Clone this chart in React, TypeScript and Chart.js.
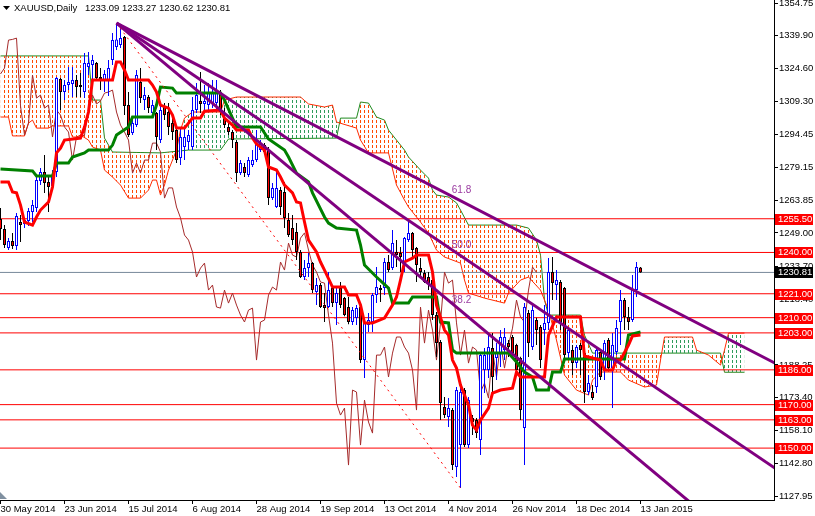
import React, { useEffect, useRef } from 'react';
import { Chart, registerables } from 'chart.js';

Chart.register(...registerables);

// ---------- data ----------
const opens = [
  1255.4, 1250.8, 1242.1, 1245.3, 1243.0, 1254.0, 1253.1, 1254.5, 1258.6, 1260.5,
  1272.9, 1277.0, 1272.4, 1270.6, 1277.0, 1319.8, 1313.8, 1317.0, 1317.5, 1319.3,
  1317.0, 1313.8, 1325.3, 1326.2, 1327.1, 1320.7, 1319.3, 1319.3, 1328.5, 1334.5,
  1335.4, 1339.1, 1307.8, 1294.9, 1298.6, 1318.4, 1310.1, 1311.5, 1304.1, 1304.1,
  1291.7, 1306.9, 1304.6, 1299.5, 1296.3, 1283.4, 1288.5, 1290.8, 1288.5, 1305.5,
  1309.7, 1308.3, 1307.8, 1308.7, 1308.7, 1313.3, 1301.8, 1297.7, 1295.4, 1290.8,
  1276.5, 1279.3, 1275.6, 1280.2, 1282.5, 1287.1, 1289.4, 1287.1, 1265.0, 1260.9,
  1268.7, 1267.8, 1254.9, 1251.3, 1249.4, 1240.2, 1228.7, 1232.8, 1235.1, 1221.8,
  1225.0, 1215.8, 1214.9, 1223.6, 1216.7, 1223.6, 1219.0, 1214.9, 1208.0, 1209.8,
  1214.9, 1190.5, 1206.6, 1208.0, 1220.4, 1223.6, 1223.6, 1235.6, 1232.8, 1240.2,
  1239.7, 1235.6, 1245.7, 1249.0, 1242.0, 1232.8, 1230.5, 1228.7, 1227.3, 1211.2,
  1198.8, 1168.9, 1164.3, 1167.5, 1141.3, 1151.4, 1176.7, 1151.4, 1163.8, 1162.9,
  1153.7, 1185.9, 1185.9, 1196.0, 1191.4, 1193.7, 1195.1, 1198.3, 1201.1, 1197.4,
  1191.4, 1159.2, 1212.1, 1196.5, 1208.9, 1205.7, 1204.3, 1207.6, 1231.0, 1225.0,
  1226.4, 1223.6, 1193.7, 1195.1, 1189.1, 1197.4, 1193.7, 1175.8, 1175.8, 1178.1,
  1194.2, 1185.9, 1199.7, 1186.8, 1194.2, 1208.0, 1218.1, 1210.3, 1208.9, 1222.7,
  1233.09,
];
const highs = [
  1260.5, 1252.6, 1246.7, 1249.0, 1258.2, 1257.2, 1255.9, 1260.5, 1264.1, 1274.7,
  1278.9, 1284.8, 1274.7, 1277.9, 1320.7, 1320.3, 1319.3, 1325.3, 1325.3, 1321.6,
  1322.5, 1331.7, 1332.2, 1330.8, 1327.6, 1324.8, 1323.9, 1328.5, 1340.9, 1345.5,
  1343.3, 1339.6, 1313.8, 1300.9, 1323.9, 1324.8, 1316.1, 1312.4, 1310.1, 1304.6,
  1308.7, 1308.7, 1308.7, 1303.2, 1297.2, 1297.2, 1297.7, 1296.3, 1311.5, 1317.9,
  1323.0, 1317.0, 1317.9, 1319.3, 1319.3, 1314.7, 1306.4, 1300.9, 1296.3, 1291.7,
  1282.5, 1281.1, 1283.9, 1287.1, 1296.3, 1291.7, 1290.3, 1288.5, 1272.0, 1277.0,
  1270.1, 1272.4, 1258.2, 1257.2, 1253.5, 1241.1, 1236.5, 1239.7, 1235.6, 1228.2,
  1225.9, 1221.3, 1231.0, 1225.0, 1223.6, 1226.4, 1219.5, 1219.5, 1214.9, 1215.8,
  1215.8, 1209.8, 1212.1, 1221.3, 1233.3, 1225.0, 1237.4, 1238.8, 1250.3, 1245.7,
  1242.5, 1247.1, 1254.9, 1249.4, 1242.5, 1237.4, 1231.9, 1231.0, 1228.2, 1212.6,
  1199.7, 1173.5, 1173.0, 1168.4, 1178.1, 1179.0, 1177.6, 1173.5, 1165.2, 1163.8,
  1193.7, 1196.0, 1202.9, 1202.9, 1198.3, 1204.3, 1205.2, 1199.7, 1202.0, 1198.0,
  1192.0, 1216.7, 1213.5, 1215.8, 1210.0, 1206.6, 1215.8, 1237.4, 1237.9, 1231.9,
  1227.3, 1224.1, 1205.7, 1197.4, 1197.4, 1198.3, 1195.1, 1183.6, 1179.0, 1196.0,
  1195.1, 1199.7, 1200.6, 1202.9, 1208.9, 1222.7, 1219.0, 1214.9, 1229.6, 1235.6,
  1233.27,
];
const lows = [
  1245.7, 1242.1, 1241.1, 1241.6, 1241.1, 1244.8, 1251.3, 1252.2, 1254.0, 1258.6,
  1271.0, 1267.4, 1258.6, 1268.7, 1274.7, 1305.5, 1310.1, 1314.7, 1311.5, 1311.5,
  1311.5, 1311.0, 1321.6, 1319.3, 1319.3, 1314.7, 1313.8, 1312.0, 1326.2, 1333.1,
  1334.0, 1303.2, 1293.1, 1294.0, 1297.7, 1308.7, 1305.5, 1304.1, 1302.3, 1287.1,
  1290.3, 1300.9, 1294.0, 1291.7, 1281.1, 1280.2, 1282.5, 1287.1, 1287.1, 1304.1,
  1304.1, 1305.5, 1305.5, 1306.4, 1304.6, 1303.2, 1297.2, 1294.0, 1288.0, 1272.4,
  1275.6, 1274.7, 1274.7, 1279.3, 1281.6, 1286.2, 1284.8, 1261.8, 1264.1, 1260.5,
  1257.2, 1251.3, 1247.1, 1243.4, 1236.5, 1228.3, 1227.3, 1228.7, 1221.3, 1215.8,
  1214.4, 1208.0, 1214.4, 1214.9, 1206.6, 1214.4, 1210.7, 1207.0, 1206.6, 1206.6,
  1189.1, 1182.2, 1203.4, 1203.4, 1216.7, 1217.2, 1220.4, 1231.0, 1231.9, 1233.3,
  1231.0, 1231.0, 1244.8, 1237.9, 1226.4, 1228.7, 1225.9, 1222.7, 1208.9, 1191.9,
  1162.9, 1163.8, 1159.7, 1139.9, 1136.7, 1131.6, 1150.5, 1150.0, 1156.0, 1154.6,
  1146.8, 1175.3, 1182.2, 1174.4, 1181.3, 1187.3, 1190.5, 1191.9, 1191.4, 1185.0,
  1162.9, 1142.2, 1191.9, 1195.1, 1197.4, 1186.8, 1197.4, 1204.3, 1218.1, 1218.1,
  1204.3, 1189.6, 1190.5, 1183.6, 1186.8, 1183.6, 1170.7, 1174.4, 1172.1, 1175.3,
  1181.3, 1181.3, 1185.9, 1168.4, 1192.8, 1197.4, 1204.3, 1204.3, 1208.0, 1219.5,
  1230.62,
];
const closes = [
  1250.8, 1243.4, 1245.3, 1243.0, 1256.8, 1252.6, 1254.9, 1259.1, 1261.8, 1273.3,
  1277.0, 1272.0, 1270.1, 1275.6, 1320.3, 1313.8, 1317.0, 1318.4, 1319.3, 1316.1,
  1316.1, 1327.1, 1327.1, 1328.5, 1320.3, 1319.8, 1322.1, 1324.8, 1337.7, 1338.0,
  1338.6, 1307.4, 1294.0, 1299.5, 1321.6, 1311.0, 1312.4, 1306.4, 1307.8, 1293.1,
  1305.5, 1303.2, 1297.7, 1295.4, 1282.5, 1293.1, 1293.1, 1294.0, 1305.5, 1312.4,
  1308.3, 1309.7, 1313.3, 1313.8, 1314.7, 1304.6, 1298.6, 1295.4, 1291.7, 1276.5,
  1281.1, 1276.5, 1282.5, 1282.5, 1290.3, 1290.3, 1286.2, 1265.0, 1269.7, 1269.7,
  1260.9, 1255.9, 1248.0, 1245.7, 1240.2, 1228.7, 1232.8, 1235.1, 1222.7, 1225.0,
  1214.9, 1214.4, 1222.7, 1216.7, 1221.3, 1215.8, 1211.2, 1208.0, 1213.5, 1214.4,
  1190.5, 1208.0, 1208.9, 1220.4, 1224.1, 1222.7, 1235.6, 1231.9, 1244.3, 1238.8,
  1237.9, 1246.6, 1249.0, 1241.1, 1234.2, 1231.0, 1226.4, 1225.9, 1211.2, 1198.3,
  1170.7, 1165.2, 1168.4, 1142.2, 1176.7, 1175.8, 1151.4, 1172.1, 1162.0, 1156.9,
  1192.8, 1192.8, 1196.5, 1182.7, 1193.7, 1201.1, 1201.1, 1196.5, 1193.7, 1185.9,
  1167.5, 1214.9, 1198.3, 1213.5, 1204.3, 1190.5, 1207.6, 1231.0, 1225.9, 1227.3,
  1207.6, 1192.8, 1204.3, 1189.1, 1196.5, 1195.1, 1175.8, 1179.9, 1173.0, 1195.1,
  1182.7, 1198.3, 1186.8, 1197.4, 1205.2, 1218.1, 1210.3, 1208.0, 1222.7, 1233.3,
  1230.81,
];

// Ichimoku lines as [bar index, price] vertices
const tenkan: [number, number][] = [
  [0, 1272.4], [2, 1272.4], [3, 1267.8], [4, 1267.4], [5, 1261.8], [6, 1254.0], [8, 1252.6], [9, 1256.3],
  [10, 1259.5], [12, 1263.2], [13, 1270.1], [14, 1285.8], [15, 1288.0], [16, 1291.7], [20, 1292.6], [21, 1297.7],
  [22, 1304.6], [23, 1319.3], [28, 1319.3], [29, 1327.6], [30, 1327.6], [31, 1323.9], [32, 1319.3], [37, 1319.3],
  [38, 1317.0], [39, 1313.8], [40, 1307.8], [42, 1306.4], [43, 1303.2], [44, 1297.2], [46, 1297.2], [47, 1299.5],
  [48, 1301.8], [50, 1301.8], [51, 1305.0], [55, 1305.5], [56, 1301.8], [58, 1298.6], [59, 1296.3], [62, 1296.3],
  [63, 1292.6], [64, 1289.9], [66, 1287.1], [67, 1279.3], [69, 1277.9], [70, 1274.7], [71, 1271.0], [73, 1267.4],
  [74, 1263.2], [75, 1262.8], [76, 1254.0], [77, 1245.7], [79, 1240.2], [80, 1235.6], [81, 1231.9], [83, 1224.1],
  [86, 1224.1], [87, 1220.4], [89, 1220.4], [90, 1215.8], [91, 1207.6], [93, 1207.6], [96, 1209.8], [98, 1215.8],
  [99, 1219.5], [100, 1227.3], [101, 1235.6], [103, 1237.4], [104, 1238.8], [107, 1238.8], [108, 1231.0], [109, 1215.8],
  [111, 1204.3], [112, 1202.0], [113, 1190.5], [114, 1186.8], [115, 1179.0], [117, 1169.8], [118, 1160.6], [119, 1158.3],
  [120, 1162.9], [122, 1168.4], [123, 1175.3], [125, 1176.7], [128, 1177.6], [129, 1185.0], [130, 1182.7], [136, 1182.7],
  [137, 1202.0], [139, 1210.3], [145, 1210.3], [146, 1192.4], [150, 1190.5], [151, 1185.9], [153, 1185.9], [154, 1190.5],
  [155, 1190.5], [157, 1197.4], [158, 1201.6], [160, 1202.0],
];
const kijun: [number, number][] = [
  [0, 1278.4], [8, 1277.5], [9, 1275.2], [13, 1275.2], [14, 1281.1], [17, 1281.1], [18, 1283.9], [21, 1285.8],
  [22, 1287.1], [27, 1287.1], [28, 1289.4], [29, 1294.0], [32, 1297.7], [33, 1302.3], [38, 1302.3], [39, 1307.8],
  [40, 1316.1], [43, 1315.6], [44, 1313.3], [55, 1313.3], [56, 1310.1], [59, 1297.7], [65, 1297.7], [67, 1292.2],
  [71, 1287.1], [72, 1283.9], [74, 1276.5], [77, 1272.4], [78, 1267.4], [81, 1256.3], [82, 1253.5], [84, 1251.2],
  [89, 1250.3], [90, 1243.4], [91, 1234.2], [94, 1228.7], [97, 1223.6], [98, 1216.7], [102, 1216.7], [103, 1219.5],
  [109, 1219.5], [110, 1208.0], [112, 1207.6], [113, 1195.1], [114, 1193.7], [127, 1193.7], [129, 1189.6], [131, 1185.0],
  [133, 1182.7], [134, 1176.7], [137, 1176.7], [138, 1185.0], [140, 1185.0], [141, 1191.0], [156, 1191.0], [157, 1202.0],
  [160, 1203.4],
];
const spanA: [number, number][] = [
  [0, 1302.3], [2, 1302.3], [3, 1293.6], [6, 1293.6], [7, 1299.5], [8, 1300.9], [9, 1297.2], [12, 1297.2],
  [13, 1298.2], [17, 1298.2], [18, 1293.1], [19, 1293.1], [20, 1294.0], [22, 1291.7], [23, 1288.5], [25, 1287.1],
  [26, 1277.9], [28, 1274.7], [30, 1271.0], [32, 1265.0], [35, 1265.0], [37, 1268.7], [38, 1273.3], [39, 1273.3],
  [40, 1266.4], [41, 1271.0], [42, 1277.9], [44, 1287.1], [45, 1296.3], [46, 1301.8], [48, 1304.6], [55, 1304.6],
  [56, 1310.1], [59, 1311.5], [75, 1311.5], [77, 1308.3], [81, 1306.9], [83, 1307.8], [84, 1300.0], [89, 1297.2],
  [90, 1291.7], [92, 1285.8], [97, 1285.8], [99, 1271.0], [101, 1264.1], [102, 1260.9], [105, 1254.0], [107, 1248.9],
  [109, 1241.1], [111, 1237.9], [115, 1235.1], [116, 1227.3], [117, 1221.3], [121, 1219.0], [126, 1216.7], [127, 1221.3],
  [130, 1227.3], [132, 1228.7], [135, 1222.7], [137, 1213.5], [139, 1199.7], [141, 1183.6], [144, 1176.7], [147, 1174.4],
  [148, 1181.3], [150, 1185.0], [155, 1185.0], [157, 1181.3], [161, 1178.1], [164, 1179.0], [165, 1190.5], [166, 1201.1],
  [173, 1201.1], [174, 1195.1], [177, 1192.8], [180, 1188.2], [181, 1195.1], [182, 1202.9], [186, 1202.9],
];
const spanB: [number, number][] = [
  [0, 1330.4], [22, 1330.4], [23, 1310.1], [25, 1310.1], [26, 1292.6], [28, 1286.2], [40, 1285.8], [47, 1287.1],
  [55, 1287.1], [57, 1292.2], [84, 1292.6], [85, 1301.8], [89, 1301.8], [90, 1309.2], [92, 1308.7], [94, 1302.3],
  [96, 1300.9], [97, 1296.3], [99, 1291.7], [101, 1287.1], [102, 1283.9], [105, 1277.9], [107, 1274.2], [108, 1268.7],
  [109, 1266.4], [112, 1265.5], [114, 1262.8], [115, 1259.5], [117, 1252.6], [129, 1252.6], [132, 1251.2], [134, 1245.7],
  [135, 1238.8], [136, 1218.1], [137, 1211.2], [145, 1211.2], [146, 1202.0], [148, 1193.7], [180, 1193.7], [181, 1184.9],
  [186, 1184.9],
];
const chikouShift = 26;

const dateTickIndex = [0, 16, 32, 48, 64, 80, 96, 112, 128, 144, 160];
const dateLabels = [
  '30 May 2014', '23 Jun 2014', '15 Jul 2014', '6 Aug 2014', '28 Aug 2014', '19 Sep 2014',
  '13 Oct 2014', '4 Nov 2014', '26 Nov 2014', '18 Dec 2014', '13 Jan 2015',
];
const priceTicks = [
  1354.75, 1339.9, 1324.6, 1309.3, 1294.45, 1279.15, 1263.85, 1249.0, 1233.7, 1218.4,
  1203.1, 1188.25, 1173.4, 1158.1, 1142.8, 1127.95,
];
const levelLines = [1255.5, 1240.0, 1221.0, 1210.0, 1203.0, 1186.0, 1170.0, 1163.0, 1150.0];
const lastPrice = 1230.81;

const fanStart = { i: 29, price: 1345.5 };
const fanEnd = { i: 115, price: 1131.6 };
const fanLevels = [38.2, 50.0, 61.8];

const symbolTitle = 'XAUUSD,Daily';
const quoteText = '1233.09 1233.27 1230.62 1230.81';

// ---------- layout / style ----------
const X_MIN = -0.125;
const X_MAX = 193.375;
const Y_MIN = 1126.13;
const Y_MAX = 1356.13;
const FONT = '"Liberation Sans", Arial, sans-serif';
const FS = 9.5;

export default function App() {
  const canvasRef = useRef<HTMLCanvasElement | null>(null);

  useEffect(() => {
    const canvas = canvasRef.current;
    if (!canvas) return;
    const c2d = canvas.getContext('2d')!;
    const makeHatch = (color: string) => {
      const tile = document.createElement('canvas');
      tile.width = 4;
      tile.height = 5;
      const t = tile.getContext('2d')!;
      t.fillStyle = color;
      t.fillRect(0, 0, 1, 3);
      return c2d.createPattern(tile, 'repeat')!;
    };
    const greenHatch = makeHatch('#2e9b5a');
    const orangeHatch = makeHatch('#ff4a00');

    const pts = (arr: [number, number][]) => arr.map(([x, y]) => ({ x, y }));
    const lineBase = { type: 'line' as const, pointRadius: 0, pointHoverRadius: 0, tension: 0, fill: false };

    const bull = closes.map((c, i) => c >= opens[i]);

    const datasets: any[] = [];
    datasets.push({ ...lineBase, data: pts(spanB), borderColor: '#1f8a1f', borderWidth: 1, order: 20 });
    datasets.push({
      ...lineBase,
      data: pts(spanA),
      borderColor: '#ff2a00',
      borderWidth: 1,
      fill: { target: 0, above: greenHatch, below: orangeHatch },
      order: 19,
    });
    levelLines.forEach((v) =>
      datasets.push({ ...lineBase, data: [{ x: X_MIN, y: v }, { x: X_MAX, y: v }], borderColor: '#ff0000', borderWidth: 1, order: 15 })
    );
    datasets.push({ ...lineBase, data: [{ x: X_MIN, y: lastPrice }, { x: X_MAX, y: lastPrice }], borderColor: '#778899', borderWidth: 1, order: 15 });
    datasets.push({
      ...lineBase,
      data: closes.slice(chikouShift).map((c, j) => ({ x: j, y: c })),
      borderColor: '#a52a2a',
      borderWidth: 1,
      order: 14,
    });
    datasets.push({
      type: 'bar',
      data: lows.map((l, i) => ({ x: i, y: [l, highs[i]] })),
      backgroundColor: bull.map((b) => (b ? '#0000ff' : '#000000')),
      borderWidth: 0,
      barThickness: 1,
      grouped: false,
      inflateAmount: 0,
      order: 10,
    });
    datasets.push({
      type: 'bar',
      data: opens.map((o, i) => ({ x: i, y: [o, closes[i]] })),
      backgroundColor: bull.map((b) => (b ? '#ffffff' : '#ff0000')),
      borderColor: bull.map((b) => (b ? '#0000ff' : '#000000')),
      borderWidth: 1,
      borderSkipped: false,
      barThickness: 3,
      grouped: false,
      inflateAmount: 0,
      order: 9,
    });
    datasets.push({ ...lineBase, data: pts(tenkan), borderColor: '#ff0000', borderWidth: 3, order: 5 });
    datasets.push({ ...lineBase, data: pts(kijun), borderColor: '#008000', borderWidth: 3, order: 5 });
    datasets.push({
      ...lineBase,
      data: [{ x: fanStart.i, y: fanStart.price }, { x: fanEnd.i, y: fanEnd.price }],
      borderColor: '#ff0000',
      borderWidth: 1,
      borderDash: [2, 4],
      order: 4,
    });
    fanLevels.forEach((lv) => {
      const endP = fanEnd.price + ((fanStart.price - fanEnd.price) * lv) / 100;
      const slope = (endP - fanStart.price) / (fanEnd.i - fanStart.i);
      const xr = X_MAX + 2;
      datasets.push({
        ...lineBase,
        data: [{ x: fanStart.i, y: fanStart.price }, { x: xr, y: fanStart.price + slope * (xr - fanStart.i) }],
        borderColor: '#800080',
        borderWidth: 3,
        order: 3,
      });
    });

    const overlay = {
      id: 'overlay',
      afterDraw(chart: any) {
        const { ctx } = chart;
        const xs = chart.scales.x;
        const ys = chart.scales.y;
        ctx.save();
        ctx.font = `10px ${FONT}`;
        ctx.fillStyle = '#9a3aa0';
        ctx.textAlign = 'center';
        ctx.textBaseline = 'middle';
        fanLevels.forEach((lv) => {
          const p = fanEnd.price + ((fanStart.price - fanEnd.price) * lv) / 100;
          ctx.fillText(lv.toFixed(1), xs.getPixelForValue(fanEnd.i) + 1, ys.getPixelForValue(p) - 10);
        });
        ctx.fillStyle = '#000';
        ctx.beginPath();
        ctx.moveTo(3, 6);
        ctx.lineTo(10, 6);
        ctx.lineTo(6.5, 10);
        ctx.closePath();
        ctx.fill();
        ctx.font = `${FS}px ${FONT}`;
        ctx.textAlign = 'left';
        ctx.fillText(symbolTitle, 14, 8);
        ctx.fillText(quoteText, 85, 8);
        ctx.fillStyle = '#8090a0';
        ctx.beginPath();
        ctx.moveTo(0, 492);
        ctx.lineTo(7, 499);
        ctx.lineTo(0, 499);
        ctx.closePath();
        ctx.fill();
        const box = (v: number, bg: string) => {
          const py = Math.round(ys.getPixelForValue(v));
          ctx.fillStyle = bg;
          ctx.fillRect(xs.right + 1, py - 5, 38, 11);
          ctx.fillStyle = '#ffffff';
          ctx.fillText(v.toFixed(2), xs.right + 4, py + 0.5);
        };
        levelLines.forEach((v) => box(v, '#ff0000'));
        box(lastPrice, '#000000');
        ctx.restore();
      },
    };

    const chart = new Chart(canvas, {
      type: 'bar',
      data: { datasets },
      plugins: [overlay],
      options: {
        animation: false,
        responsive: false,
        devicePixelRatio: 1,
        layout: { padding: 0 },
        plugins: { legend: { display: false }, tooltip: { enabled: false }, filler: { propagate: false } },
        font: { family: FONT, size: FS },
        scales: {
          x: {
            type: 'linear',
            position: 'bottom',
            min: X_MIN,
            max: X_MAX,
            offset: false,
            afterBuildTicks: (s: any) => {
              s.ticks = dateTickIndex.map((v) => ({ value: v }));
            },
            afterFit: (s: any) => {
              s.height = 16;
              s.paddingLeft = 0;
              s.paddingRight = 0;
            },
            grid: { display: true, drawOnChartArea: false, drawTicks: true, tickLength: 4, color: '#000', offset: false },
            border: { display: true, color: '#000', width: 1 },
            ticks: {
              autoSkip: false,
              maxRotation: 0,
              minRotation: 0,
              align: 'start',
              padding: 0,
              color: '#000',
              font: { family: FONT, size: FS },
              callback: (v: any) => {
                const k = dateTickIndex.indexOf(Number(v));
                return k >= 0 ? dateLabels[k] : '';
              },
            },
          },
          y: {
            type: 'linear',
            position: 'right',
            min: Y_MIN,
            max: Y_MAX,
            afterBuildTicks: (s: any) => {
              s.ticks = priceTicks.map((v) => ({ value: v }));
            },
            afterFit: (s: any) => {
              s.width = 41;
              s.paddingTop = 0;
              s.paddingBottom = 0;
            },
            grid: { display: true, drawOnChartArea: false, drawTicks: true, tickLength: 4, color: '#000' },
            border: { display: true, color: '#000', width: 1 },
            ticks: {
              autoSkip: false,
              padding: 1,
              color: '#000',
              font: { family: FONT, size: FS },
              callback: (v: any) => Number(v).toFixed(2),
            },
          },
        },
      } as any,
    } as any);

    return () => chart.destroy();
  }, []);

  return (
    <div style={{ position: 'fixed', left: 0, top: 0, width: 815, height: 516, background: '#ffffff' }}>
      <canvas ref={canvasRef} width={815} height={516} style={{ display: 'block', width: 815, height: 516 }} />
    </div>
  );
}
